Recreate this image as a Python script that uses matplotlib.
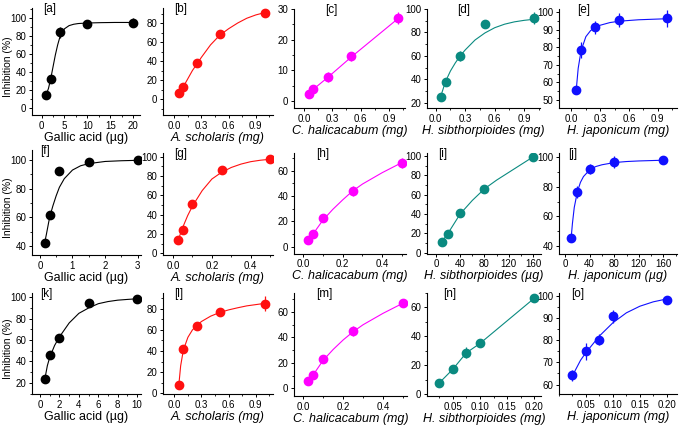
import numpy as np
import matplotlib
matplotlib.use('Agg')
import matplotlib.pyplot as plt
from matplotlib.ticker import AutoMinorLocator

plt.rcParams['font.family'] = ['Liberation Sans', 'DejaVu Sans']

# ── Data ───────────────────────────────────────────────────────────────────
# shared dose series
dose_ga1 = [1, 2, 4, 10, 20]
dose_mg1 = [0.05, 0.1, 0.25, 0.5, 1.0]
dose_ga2 = [0.15, 0.3, 0.6, 1.5, 3.0]
dose_mg2 = [0.025, 0.05, 0.1, 0.25, 0.5]
dose_ug = [10, 20, 40, 80, 160]
dose_ga3 = [0.5, 1, 2, 5, 10]
dose_mg3 = [0.025, 0.05, 0.075, 0.1, 0.2]

# inhibition (%) and error
a_y = [15, 32, 84, 93, 94.5];   a_err = [2, 2, 6, 3, 5]
b_y = [6, 13, 37.5, 68, 91];    b_err = [1, 1, 1.5, 1.5, 1.5]
c_y = [2.3, 3.9, 7.8, 14.6, 27]; c_err = [0.5, 0.8, 1.5, 1.5, 2]
d_y = [25, 37.7, 59.9, 87.4, 92]; d_err = [1.5, 1.5, 4, 2, 5]
e_y = [55.7, 78.5, 91.3, 95.5, 96.4]; e_err = [2, 4.5, 3.5, 4, 5]
f_y = [42.3, 61.4, 92.3, 98.6, 99.8]; f_err = [1, 1, 3, 1, 1]
g_y = [14, 24.4, 51.6, 86, 97.5]; g_err = [1, 1.5, 2, 1.5, 1]
h_y = [5.7, 9.7, 22.5, 44, 66];  h_err = [1, 1.5, 2, 4, 4]
i_y = [11.3, 19.8, 41, 66.2, 99]; i_err = [1, 1, 1.5, 1.5, 1]
j_y = [45.5, 76.6, 92.2, 96.7, 98.1]; j_err = [1, 4, 3.5, 4, 1]
k_y = [23.8, 46, 62, 94.5, 98.7]; k_err = [1, 1.5, 4, 3, 1]
l_y = [8.3, 41.6, 64, 76.8, 85]; l_err = [1, 1.5, 1.5, 1.5, 7]
m_y = [6, 10.5, 23, 45, 66.8];  m_err = [1, 1, 1.5, 4, 3]
n_y = [7.5, 17, 28.7, 35, 66.7]; n_err = [1, 2.5, 4, 1.5, 2]
o_y = [64.2, 75, 80.2, 91, 98.5]; o_err = [2.5, 4, 2.5, 3, 1]

# fitted curves
a_fx = [1, 1.5, 2, 2.5, 3, 3.5, 4, 5, 6, 7, 8, 10, 13, 16, 20]
a_fy = [15, 22, 33, 46, 59, 70, 79, 88, 91.5, 93, 93.8, 94.4, 94.8, 95, 95]
b_fx = [0.05, 0.1, 0.2, 0.3, 0.4, 0.5, 0.6, 0.7, 0.8, 0.9, 1.0]
b_fy = [6, 13, 30, 44, 57, 67, 74, 80, 85, 88.5, 91]
c_fx = [0.05, 0.1, 0.25, 0.5, 1.0]
c_fy = [2.5, 3.8, 7.6, 14.3, 27]
d_fx = [0.05, 0.1, 0.15, 0.2, 0.25, 0.3, 0.4, 0.5, 0.6, 0.7, 0.8, 0.9, 1.0]
d_fy = [25, 38, 47, 54, 60, 65, 73.5, 79.5, 84, 87, 89, 90.3, 91.2]
e_fx = [0.05, 0.07, 0.1, 0.15, 0.2, 0.25, 0.3, 0.4, 0.5, 0.7, 1.0]
e_fy = [56, 68, 78, 86, 89.5, 91.3, 92.5, 94, 94.8, 95.6, 96.2]
f_fx = [0.15, 0.2, 0.3, 0.4, 0.5, 0.6, 0.75, 1.0, 1.25, 1.5, 2.0, 2.5, 3.0]
f_fy = [42.5, 48, 60, 68, 75, 81, 87, 93, 96, 97.5, 99, 99.5, 99.8]
g_fx = [0.025, 0.05, 0.075, 0.1, 0.15, 0.2, 0.25, 0.3, 0.35, 0.4, 0.45, 0.5]
g_fy = [13, 27, 39, 49, 65, 77, 84, 89, 92.5, 95, 96.5, 97.5]
h_fx = [0.025, 0.05, 0.1, 0.15, 0.2, 0.25, 0.3, 0.4, 0.5]
h_fy = [5.5, 10, 21, 29.5, 37, 44, 49.5, 58.5, 66.5]
i_fx = [10, 20, 40, 60, 80, 100, 120, 140, 160]
i_fy = [11.5, 20, 40, 54, 66, 75, 83, 91, 99]
j_fx = [10, 12, 15, 20, 25, 30, 40, 50, 60, 80, 100, 120, 160]
j_fy = [45.5, 55, 66, 76.5, 83, 87, 91.5, 93.8, 95, 96.5, 97.2, 97.6, 98.1]
k_fx = [0.5, 0.75, 1, 1.5, 2, 3, 4, 5, 6, 7, 8, 9, 10]
k_fy = [24, 36, 44, 55, 63, 76, 85, 90, 94, 96, 97.3, 98, 98.6]
l_fx = [0.05, 0.07, 0.1, 0.15, 0.2, 0.25, 0.3, 0.4, 0.5, 0.6, 0.7, 0.8, 0.9, 1.0]
l_fy = [8, 26, 41, 53, 60, 64.5, 68, 73, 76.5, 79, 81, 82.8, 84, 85.2]
m_fx = [0.025, 0.05, 0.1, 0.15, 0.2, 0.25, 0.3, 0.4, 0.5]
m_fy = [6, 10.5, 22, 30.5, 38, 44.5, 50, 59, 67]
n_fx = [0.025, 0.05, 0.075, 0.1, 0.2]
n_fy = [7.5, 17, 28.5, 35, 66.5]
o_fx = [0.025, 0.04, 0.05, 0.075, 0.1, 0.125, 0.15, 0.175, 0.2]
o_fy = [64, 71, 74.5, 82, 88, 92.5, 95.5, 97.5, 98.8]

# axis labels and ticks
xlab_ga = 'Gallic acid (µg)'
xlab_as = 'A. scholaris (mg)'
xlab_ch = 'C. halicacabum (mg)'
xlab_hs_mg = 'H. sibthorpioides (mg)'
xlab_hs_ug = 'H. sibthorpioides (µg)'
xlab_hj_mg = 'H. japonicum (mg)'
xlab_hj_ug = 'H. japonicum (µg)'

xt_mg1 = [0.0, 0.3, 0.6, 0.9]; xtl_mg1 = ['0.0', '0.3', '0.6', '0.9']
xt_mg2 = [0.0, 0.2, 0.4];      xtl_mg2 = ['0.0', '0.2', '0.4']
xt_mg3 = [0.05, 0.10, 0.15, 0.20]; xtl_mg3 = ['0.05', '0.10', '0.15', '0.20']
xt_ug = [0, 40, 80, 120, 160]
xt_ga1 = [0, 5, 10, 15, 20]
xt_ga2 = [0, 1, 2, 3]
xt_ga3 = [0, 2, 4, 6, 8, 10]

BLACK, RED, MAG, TEAL, BLUE = 'black', '#ff1010', '#ff00ff', '#0a8a80', '#1010ff'

W, H = 680, 429
fig = plt.figure(figsize=(W / 100, H / 100), dpi=100)

# (tag, x, y, err, fit x, fit y, colour, xlabel, italic, xticks, xticklabels,
#  yticks, xlim, ylim, rect px (left, top, right, bottom), tag x frac)
panels = [
    ('a', dose_ga1, a_y, a_err, a_fx, a_fy, BLACK, xlab_ga, False, xt_ga1, None,
     range(0, 101, 20), (-2.1, 21.5), (-7.4, 111), (32, 8, 140, 115), 0.1),
    ('b', dose_mg1, b_y, b_err, b_fx, b_fy, RED, xlab_as, True, xt_mg1, xtl_mg1,
     range(0, 81, 20), (-0.125, 1.09), (-16.8, 95.8), (163, 8, 273, 115), 0.1),
    ('c', dose_mg1, c_y, c_err, c_fx, c_fy, MAG, xlab_ch, True, xt_mg1, xtl_mg1,
     range(0, 31, 10), (-0.105, 1.07), (-2.5, 30.2), (294, 8.5, 405, 108.5), 0.28),
    ('d', dose_mg1, d_y, d_err, d_fx, d_fy, TEAL, xlab_hs_mg, True, xt_mg1, xtl_mg1,
     range(20, 101, 20), (-0.088, 1.06), (15.0, 100.4), (427, 8.5, 540, 108.5), 0.27),
    ('e', dose_mg1, e_y, e_err, e_fx, e_fy, BLUE, xlab_hj_mg, True, xt_mg1, xtl_mg1,
     range(50, 101, 10), (-0.13, 1.1), (45.2, 102), (559, 8.5, 677, 108.5), 0.15),
    ('f', dose_ga2, f_y, f_err, f_fx, f_fy, BLACK, xlab_ga, False, xt_ga2, None,
     range(40, 101, 20), (-0.24, 3.1), (33.7, 107), (32, 150, 141, 255), 0.07),
    ('g', dose_mg2, g_y, g_err, g_fx, g_fy, RED, xlab_as, True, xt_mg2, xtl_mg2,
     range(0, 101, 20), (-0.052, 0.515), (-1.8, 104), (163, 153, 273, 255), 0.1),
    ('h', dose_mg2, h_y, h_err, h_fx, h_fy, MAG, xlab_ch, True, xt_mg2, xtl_mg2,
     range(0, 61, 20), (-0.046, 0.52), (-5.3, 74), (294, 153, 406, 253.5), 0.2),
    ('i', dose_ug, i_y, i_err, i_fx, i_fy, TEAL, xlab_hs_ug, True, xt_ug, None,
     range(0, 101, 20), (-14.5, 173), (-0.8, 103), (427, 153, 541, 253.5), 0.1),
    ('j', dose_ug, j_y, j_err, j_fx, j_fy, BLUE, xlab_hj_ug, True, xt_ug, None,
     range(40, 101, 20), (-9.8, 182), (34.7, 103), (559, 153, 677, 253.5), 0.08),
    ('k', dose_ga3, k_y, k_err, k_fx, k_fy, BLACK, xlab_ga, False, xt_ga3, None,
     range(20, 101, 20), (-0.83, 10.4), (9.6, 104), (32, 293, 141, 394), 0.07),
    ('l', dose_mg1, l_y, l_err, l_fx, l_fy, RED, xlab_as, True, xt_mg1, xtl_mg1,
     range(0, 81, 20), (-0.125, 1.09), (-0.7, 95), (163, 293, 273, 394), 0.1),
    ('m', dose_mg2, m_y, m_err, m_fx, m_fy, MAG, xlab_ch, True, xt_mg2, xtl_mg2,
     range(0, 61, 20), (-0.046, 0.52), (-6.1, 75), (294, 293, 407, 396), 0.2),
    ('n', dose_mg3, n_y, n_err, n_fx, n_fy, TEAL, xlab_hs_mg, True, xt_mg3, xtl_mg3,
     range(0, 61, 20), (0.003, 0.212), (-1.4, 70), (427, 293, 541, 396), 0.14),
    ('o', dose_mg3, o_y, o_err, o_fx, o_fy, BLUE, xlab_hj_mg, True, xt_mg3, xtl_mg3,
     range(60, 101, 10), (0.0, 0.219), (55.7, 101.5), (559, 293, 677, 394), 0.1),
]

for (tag, x, y, err, fx, fy, col, xlab, ital, xt, xtl, yt, xlim, ylim,
     rect, tagx) in panels:
    l, t, r, b = rect
    ax = fig.add_axes([l / W, 1 - b / H, (r - l) / W, (b - t) / H])
    ax.plot(fx, fy, color=col, lw=0.8, zorder=2)
    ax.errorbar(x, y, yerr=err, fmt='o', color=col, ms=6, elinewidth=0.9,
                capsize=0, zorder=3)
    ax.set_xlim(*xlim)
    ax.set_ylim(*ylim)
    ax.set_xticks(xt)
    if xtl is not None:
        ax.set_xticklabels(xtl)
    ax.set_yticks(list(yt))
    ax.xaxis.set_minor_locator(AutoMinorLocator(2))
    ax.yaxis.set_minor_locator(AutoMinorLocator(2))
    for s in ('top', 'right'):
        ax.spines[s].set_visible(False)
    for s in ('left', 'bottom'):
        ax.spines[s].set_linewidth(0.8)
    ax.tick_params(which='major', length=2.5, width=0.7, labelsize=7, pad=1.5)
    ax.tick_params(which='minor', length=1.3, width=0.6)
    ax.set_xlabel(xlab, fontsize=9, style='italic' if ital else 'normal',
                  labelpad=1)
    if tag in ('a', 'f', 'k'):
        ax.set_ylabel('Inhibition (%)', fontsize=7.5)
        ax.yaxis.set_label_coords((13 - l) / (r - l), 0.45)
    ax.text(tagx, 0.99, '[%s]' % tag, transform=ax.transAxes, fontsize=8.5,
            ha='left', va='center')

fig.savefig('out.png', dpi=100)
